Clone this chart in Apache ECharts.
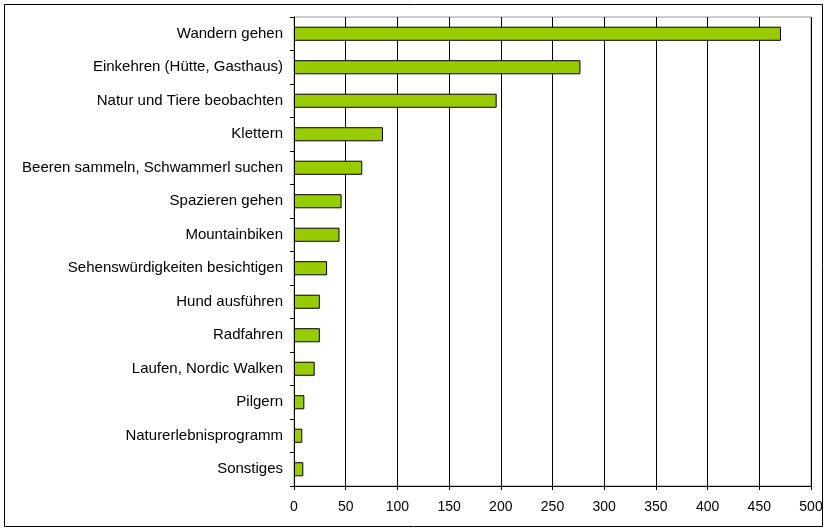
<!DOCTYPE html>
<html>
<head>
<meta charset="utf-8">
<script src="https://cdn.jsdelivr.net/npm/echarts@6/dist/echarts.min.js"></script>
<style>
    html, body { margin: 0; padding: 0; background: #fff; }
    #chart { width: 825px; height: 529px; }
</style>
</head>
<body>
<div id="chart"></div>
<script>
// Kategorien (von oben nach unten)
var categories = [
    'Wandern gehen',
    'Einkehren (Hütte, Gasthaus)',
    'Natur und Tiere beobachten',
    'Klettern',
    'Beeren sammeln, Schwammerl suchen',
    'Spazieren gehen',
    'Mountainbiken',
    'Sehenswürdigkeiten besichtigen',
    'Hund ausführen',
    'Radfahren',
    'Laufen, Nordic Walken',
    'Pilgern',
    'Naturerlebnisprogramm',
    'Sonstiges'
];
var values = [471, 277, 196, 86, 66, 46, 44, 32, 25, 25, 20, 10, 8, 9];
var xTicks = [0, 50, 100, 150, 200, 250, 300, 350, 400, 450, 500];

var chart = echarts.init(document.getElementById('chart'));
var font = 'Liberation Sans, Arial, sans-serif';

chart.setOption({
    animation: false,
    textStyle: { fontFamily: font },
    graphic: [{
        type: 'rect',
        shape: { x: 4.5, y: 4.5, width: 818, height: 522 },
        style: { fill: 'none', stroke: '#000', lineWidth: 1 },
        silent: true
    }],
    grid: {
        left: 294, right: 14, top: 17, bottom: 43,
        outerBoundsMode: 'none',
        show: true,
        borderColor: '#999',
        borderWidth: 1
    },
    xAxis: {
        type: 'value',
        min: xTicks[0],
        max: xTicks[xTicks.length - 1],
        interval: 50,
        axisLine: { show: true, lineStyle: { color: '#000' } },
        axisTick: { show: true, length: 4, lineStyle: { color: '#000' } },
        axisLabel: { color: '#000', fontSize: 14, fontFamily: font, margin: 14 },
        splitLine: { show: true, lineStyle: { color: '#000', width: 1 } }
    },
    yAxis: {
        type: 'category',
        data: categories,
        inverse: true,
        axisLine: { show: true, lineStyle: { color: '#000' } },
        axisTick: { show: true, length: 4, lineStyle: { color: '#000' } },
        axisLabel: { color: '#000', fontSize: 15, fontFamily: font, margin: 11 },
        splitLine: { show: false }
    },
    series: [{
        type: 'bar',
        data: values,
        barCategoryGap: '58%',
        itemStyle: { color: '#99cc00', borderColor: '#000', borderWidth: 1 }
    }]
});
</script>
</body>
</html>
